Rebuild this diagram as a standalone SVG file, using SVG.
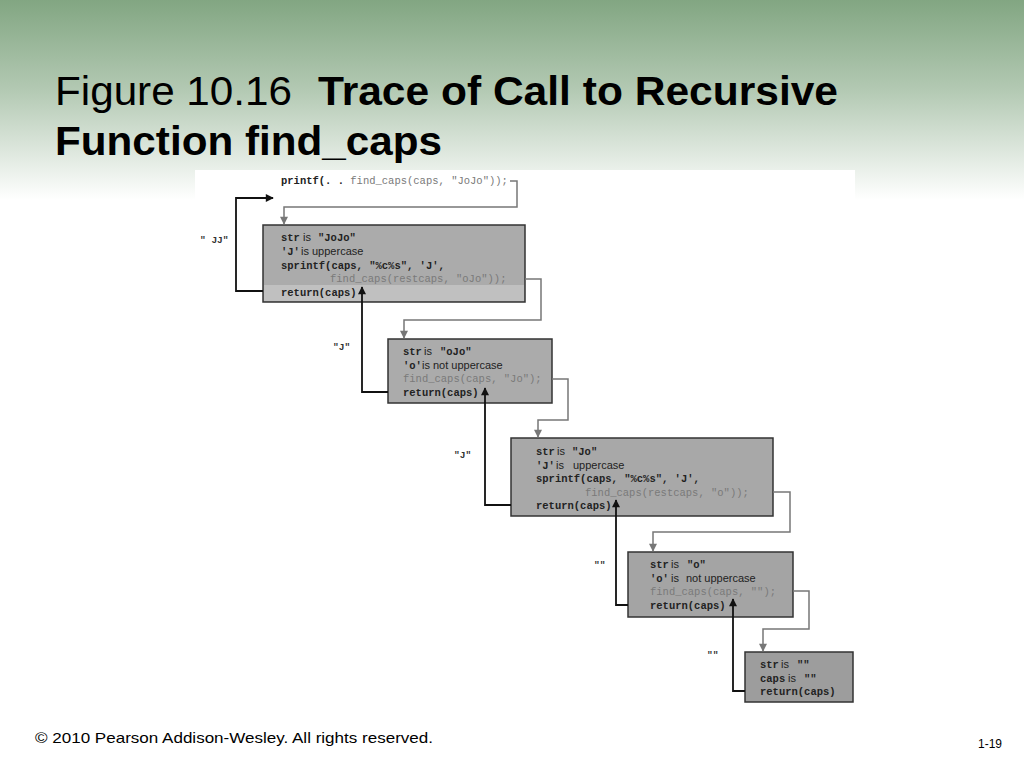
<svg xmlns="http://www.w3.org/2000/svg" width="1024" height="768" viewBox="0 0 1024 768">
<defs>
<linearGradient id="bg" x1="0" y1="0" x2="0" y2="1">
<stop offset="0" stop-color="#82a682"/>
<stop offset="0.45" stop-color="#b3c9b3"/>
<stop offset="1" stop-color="#ffffff"/>
</linearGradient>
<marker id="ab" viewBox="0 0 10 10" refX="9" refY="5" markerWidth="9" markerHeight="8" markerUnits="userSpaceOnUse" orient="auto">
<path d="M0,0 L10,5 L0,10 Z" fill="#111"/>
</marker>
<marker id="ag" viewBox="0 0 10 10" refX="9" refY="5" markerWidth="9" markerHeight="8" markerUnits="userSpaceOnUse" orient="auto">
<path d="M0,0 L10,5 L0,10 Z" fill="#777"/>
</marker>
</defs>
<style>
.code{font-family:"Liberation Mono","DejaVu Sans Mono",monospace;font-size:10.5px;font-weight:bold;fill:#222}
.dim{fill:#7a7a7a;font-weight:normal}
.sans{font-family:"Liberation Sans",Arial,sans-serif;font-size:11px;font-weight:normal;fill:#222}
.lbl{font-family:"Liberation Mono","DejaVu Sans Mono",monospace;font-size:9.5px;font-weight:bold;fill:#333}
.box{stroke:#333;stroke-width:1.5}
.blk{fill:none;stroke:#111;stroke-width:1.8;marker-end:url(#ab)}
.gry{fill:none;stroke:#777;stroke-width:1.5;marker-end:url(#ag)}
</style>
<rect x="0" y="0" width="1024" height="768" fill="#ffffff"/>
<rect x="0" y="0" width="1024" height="200" fill="url(#bg)"/>
<rect x="195" y="170" width="660" height="536" fill="#ffffff"/>

<g id="title">
<text x="55" y="105" font-family="Liberation Sans,Arial,sans-serif" font-size="41" fill="#000" textLength="237" lengthAdjust="spacingAndGlyphs">Figure 10.16</text>
<text x="318" y="105" font-family="Liberation Sans,Arial,sans-serif" font-size="41" font-weight="bold" fill="#000" textLength="520" lengthAdjust="spacingAndGlyphs">Trace of Call to Recursive</text>
<text x="55" y="155" font-family="Liberation Sans,Arial,sans-serif" font-size="41" font-weight="bold" fill="#000" textLength="387" lengthAdjust="spacingAndGlyphs">Function find_caps</text>
</g>

<g id="printf">
<text class="code" x="281" y="184">printf(. . <tspan class="dim">find_caps(caps, "JoJo"));</tspan></text>
</g>

<g id="box1">
<rect class="box" x="263" y="225" width="262" height="77" fill="#ababab"/>
<rect x="264" y="285" width="260" height="16" fill="#c0c0c0"/>
<text class="code" x="281" y="241">str</text><text class="sans" x="303" y="241">is</text><text class="code" x="318" y="241">"JoJo"</text>
<text class="code" x="281" y="255">'J'</text><text class="sans" x="301" y="255">is uppercase</text>
<text class="code" x="281" y="268.5">sprintf(caps, "%c%s", 'J',</text>
<text class="code dim" x="330" y="282">find_caps(restcaps, "oJo"));</text>
<text class="code" x="281" y="296">return(caps)</text>
</g>

<g id="box2">
<rect class="box" x="388" y="339" width="164" height="64" fill="#ababab"/>
<text class="code" x="403" y="355">str</text><text class="sans" x="424" y="355">is</text><text class="code" x="440" y="355">"oJo"</text>
<text class="code" x="403" y="368.5">'o'</text><text class="sans" x="422" y="368.5">is not uppercase</text>
<text class="code dim" x="403" y="382">find_caps(caps, "Jo");</text>
<text class="code" x="403" y="395.5">return(caps)</text>
</g>

<g id="box3">
<rect class="box" x="511" y="438" width="262" height="78" fill="#a8a8a8"/>
<text class="code" x="536" y="455">str</text><text class="sans" x="557" y="455">is</text><text class="code" x="572" y="455">"Jo"</text>
<text class="code" x="536" y="468.5">'J'</text><text class="sans" x="556" y="468.5">is</text><text class="sans" x="573" y="468.5">uppercase</text>
<text class="code" x="536" y="482">sprintf(caps, "%c%s", 'J',</text>
<text class="code dim" x="585" y="495.5">find_caps(restcaps, "o"));</text>
<text class="code" x="536" y="509">return(caps)</text>
</g>

<g id="box4">
<rect class="box" x="628" y="552" width="165" height="65" fill="#a4a4a4"/>
<text class="code" x="650" y="568">str</text><text class="sans" x="671" y="568">is</text><text class="code" x="687" y="568">"o"</text>
<text class="code" x="650" y="581.5">'o'</text><text class="sans" x="671" y="581.5">is</text><text class="sans" x="686" y="581.5">not uppercase</text>
<text class="code dim" x="650" y="595">find_caps(caps, "");</text>
<text class="code" x="650" y="608.5">return(caps)</text>
</g>

<g id="box5">
<rect class="box" x="745" y="652" width="108" height="50" fill="#9d9d9d"/>
<text class="code" x="760" y="668">str</text><text class="sans" x="781" y="668">is</text><text class="code" x="797" y="668">""</text>
<text class="code" x="760" y="681.5">caps</text><text class="sans" x="788" y="681.5">is</text><text class="code" x="804" y="681.5">""</text>
<text class="code" x="760" y="695">return(caps)</text>
</g>

<g id="labels">
<text class="lbl" x="200" y="243">" JJ"</text>
<text class="lbl" x="333" y="350">"J"</text>
<text class="lbl" x="454" y="458">"J"</text>
<text class="lbl" x="594" y="568">""</text>
<text class="lbl" x="707" y="658">""</text>
</g>

<g id="connectors">
<polyline class="gry" points="510,181 517,181 517,207 284,207 284,224"/>
<polyline class="blk" points="263,291 236,291 236,198 273,198"/>
<polyline class="gry" points="525,279 541,279 541,320 404,320 404,338"/>
<polyline class="blk" points="388,392 362,392 362,287"/>
<polyline class="gry" points="552,379 568,379 568,420 538,420 538,437"/>
<polyline class="blk" points="511,505 485,505 485,388"/>
<polyline class="gry" points="773,492 790,492 790,532 653,532 653,551"/>
<polyline class="blk" points="628,605 616,605 616,500"/>
<polyline class="gry" points="793,591 809,591 809,629 763,629 763,651"/>
<polyline class="blk" points="745,691 733,691 733,599"/>
</g>

<g id="footer">
<text x="35" y="743" font-family="Liberation Sans,Arial,sans-serif" font-size="15" fill="#000" textLength="398" lengthAdjust="spacingAndGlyphs">© 2010 Pearson Addison-Wesley. All rights reserved.</text>
<text x="978" y="748" font-family="Liberation Sans,Arial,sans-serif" font-size="12" fill="#000">1-19</text>
</g>
</svg>
